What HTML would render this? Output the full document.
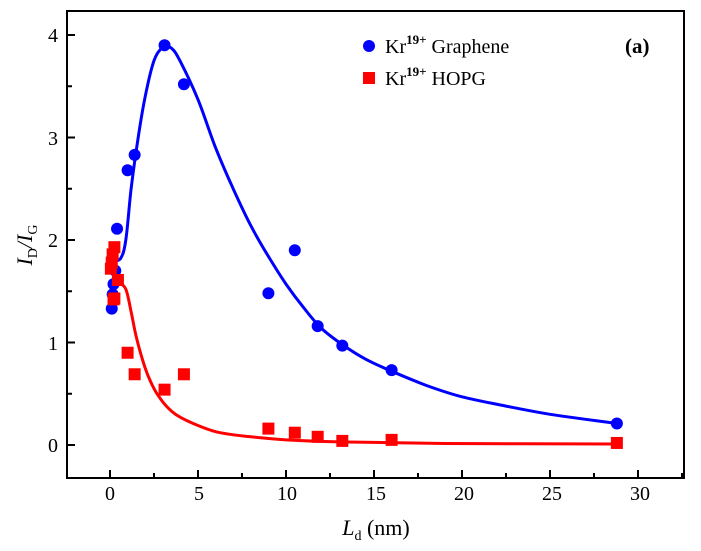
<!DOCTYPE html>
<html><head><style>body{margin:0;background:#fff}svg{display:block}text{font-family:"Liberation Serif",serif;fill:#000}</style></head><body>
<svg id="s" width="701" height="551" xmlns="http://www.w3.org/2000/svg">
<rect x="67" y="11" width="617" height="467" fill="none" stroke="#000" stroke-width="2"/>
<g id="ticks" stroke="#000" stroke-width="2"></g>
<g font-size="20" text-anchor="middle">
<text x="110" y="500">0</text><text x="199" y="500">5</text><text x="287" y="500">10</text><text x="376" y="500">15</text><text x="464" y="500">20</text><text x="552" y="500">25</text><text x="640" y="500">30</text>
</g>
<g font-size="20" text-anchor="end">
<text x="58" y="452">0</text><text x="58" y="350">1</text><text x="58" y="247">2</text><text x="58" y="145">3</text><text x="58" y="42">4</text>
</g>
<text x="376" y="535" font-size="22" text-anchor="middle"><tspan font-style="italic">L</tspan><tspan font-size="14" dy="5">d</tspan><tspan dy="-5"> (nm)</tspan></text>
<text transform="translate(32,245) rotate(-90)" font-size="22" text-anchor="middle"><tspan font-style="italic">I</tspan><tspan font-size="14" dy="5">D</tspan><tspan dy="-5" font-style="italic">/I</tspan><tspan font-size="14" dy="5">G</tspan></text>
<path id="bl" fill="none" stroke="#0000ff" stroke-width="3"/>
<path id="rl" fill="none" stroke="#ff0000" stroke-width="3"/>
<g id="pts"></g>
<circle cx="369" cy="46" r="6" fill="#0000ff"/>
<rect x="363" y="72" width="12" height="12" fill="#ff0000"/>
<text x="385" y="53" font-size="20">Kr<tspan font-size="13" font-weight="bold" dy="-9">19+</tspan><tspan dy="9"> Graphene</tspan></text>
<text x="385" y="85" font-size="20">Kr<tspan font-size="13" font-weight="bold" dy="-9">19+</tspan><tspan dy="9"> HOPG</tspan></text>
<text x="625" y="53" font-size="21" font-weight="bold">(a)</text>
</svg>
<script>
var X=function(v){return 110+v*17.6},Y=function(v){return 445-v*102.5};
var t=document.getElementById('ticks'),h='';
for(var v=-2.5;v<=32.5;v+=2.5){var x=X(v);if(x<68||x>683)continue;var L=(v%5==0)?8:5;h+='<line x1="'+x+'" y1="478" x2="'+x+'" y2="'+(478-L)+'"/>';}
for(var v=0;v<=4;v+=0.5){var y=Y(v);var L=(v%1==0)?8:5;h+='<line x1="67" y1="'+y+'" x2="'+(67+L)+'" y2="'+y+'"/>';}
t.innerHTML=h;
function P(a){var p=a.map(function(q){return [X(q[0]),Y(q[1])]});var d='M'+p[0][0].toFixed(1)+','+p[0][1].toFixed(1);
for(var i=0;i<p.length-1;i++){var p0=p[i-1]||p[i],p1=p[i],p2=p[i+1],p3=p[i+2]||p2;
d+=' C'+(p1[0]+(p2[0]-p0[0])/6).toFixed(1)+','+(p1[1]+(p2[1]-p0[1])/6).toFixed(1)+' '+(p2[0]-(p3[0]-p1[0])/6).toFixed(1)+','+(p2[1]-(p3[1]-p1[1])/6).toFixed(1)+' '+p2[0].toFixed(1)+','+p2[1].toFixed(1);}
return d;}
var B=[[0.15,1.8],[0.6,1.82],[0.9,2.0],[1.2,2.5],[1.6,3.0],[2.0,3.4],[2.5,3.75],[3.0,3.88],[3.5,3.87],[4.0,3.74],[5,3.37],[6,2.9],[7,2.5],[8,2.14],[9,1.84],[10,1.57],[11,1.34],[12,1.14],[13.2,0.98],[14.5,0.84],[16,0.72],[18,0.58],[20,0.47],[22.5,0.38],[25,0.3],[28.8,0.21]];
var R=[[0.2,1.6],[0.5,1.58],[0.9,1.52],[1.2,1.3],[1.5,1.05],[2,0.75],[2.5,0.55],[3,0.42],[3.5,0.33],[4,0.27],[5,0.19],[6,0.13],[7,0.1],[8,0.08],[10,0.05],[13,0.03],[19,0.015],[28.8,0.01]];
document.getElementById('bl').setAttribute('d',P(B));
document.getElementById('rl').setAttribute('d',P(R));
var bp=[[0.1,1.33],[0.15,1.47],[0.2,1.57],[0.3,1.7],[0.4,2.11],[1.0,2.68],[1.4,2.83],[3.1,3.9],[4.2,3.52],[9.0,1.48],[10.5,1.9],[11.8,1.16],[13.2,0.97],[16,0.73],[28.8,0.21]];
var rp=[[0.05,1.72],[0.1,1.78],[0.15,1.86],[0.25,1.93],[0.2,1.42],[0.25,1.43],[0.45,1.61],[1.0,0.9],[1.4,0.69],[3.1,0.54],[4.2,0.69],[9.0,0.16],[10.5,0.12],[11.8,0.08],[13.2,0.04],[16,0.05],[28.8,0.02]];
var s='';bp.forEach(function(p){s+='<circle cx="'+X(p[0])+'" cy="'+Y(p[1])+'" r="6" fill="#0000ff"/>';});
rp.forEach(function(p){s+='<rect x="'+(X(p[0])-6)+'" y="'+(Y(p[1])-6)+'" width="12" height="12" fill="#ff0000"/>';});
document.getElementById('pts').innerHTML=s;
</script>
</body></html>
